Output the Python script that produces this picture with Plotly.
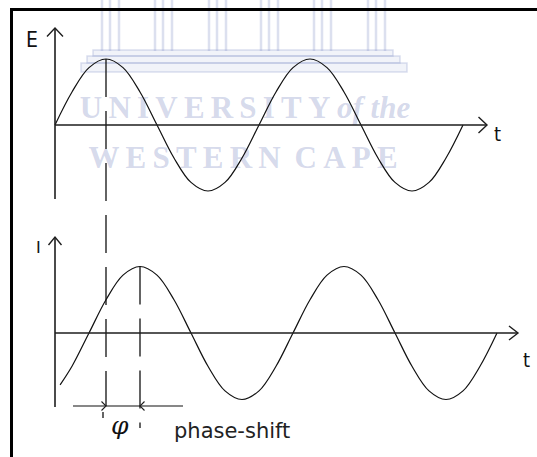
import plotly.graph_objects as go

W, H = 537, 457

# ---- data: phase (degrees) and amplitude (units of peak) ----
E_t = [0, 30, 60, 90, 120, 150, 180, 210, 240, 270, 300, 330, 360,
       390, 420, 450, 480, 510, 540, 570, 600, 630, 660, 690, 720]
E_v = [0, 0.5, 0.87, 1, 0.87, 0.5, 0, -0.5, -0.87, -1, -0.87, -0.5, 0,
       0.5, 0.87, 1, 0.87, 0.5, 0, -0.5, -0.87, -1, -0.87, -0.5, 0]
I_t = [9, 30, 60, 90, 120, 150, 180, 210, 240, 270, 300, 330, 360,
       390, 420, 450, 480, 510, 540, 570, 600, 630, 660, 690, 720, 750, 780]
I_v = [-0.78, -0.5, 0, 0.5, 0.87, 1, 0.87, 0.5, 0, -0.5, -0.87, -1, -0.87,
       -0.5, 0, 0.5, 0.87, 1, 0.87, 0.5, 0, -0.5, -0.87, -1, -0.87, -0.5, 0]
E_peak_t = 90
I_peak_t = 150

# ---- layout geometry (pixels) ----
ORIGIN_PX = 55
PX_PER_DEG = 204 / 360
E_BASE_PX, E_AMP_PX = 125, 66
I_BASE_PX, I_AMP_PX = 333, 66.5


def tx(px):
    return (px - ORIGIN_PX) / PX_PER_DEG


def t2px(t):
    return ORIGIN_PX + t * PX_PER_DEG


def ey(py):
    return (E_BASE_PX - py) / E_AMP_PX


def iy(py):
    return (I_BASE_PX - py) / I_AMP_PX


def xp(px):
    return px / W


def yp(py):
    return 1 - py / H


INK = "#111111"
AX = "#1e1e1e"
DASH = "38px,14px"

fig = go.Figure()

# ---- watermark (below) ----
WM_LINE = "rgba(150,160,205,0.33)"
WM_FILL = "rgba(150,160,205,0.13)"
WM_TEXT = "rgba(150,160,205,0.40)"
shapes = []
for gx in [100, 153, 207, 259, 312, 366]:
    for off in [2, 10, 19]:
        shapes.append(dict(type="line", xref="paper", yref="paper",
                           x0=xp(gx + off), x1=xp(gx + off), y0=yp(0), y1=yp(51),
                           line=dict(color=WM_LINE, width=2.5), layer="below"))
for (x0, x1, y0, y1) in [(93, 393, 50, 56), (87, 400, 56, 63), (81, 407, 63, 72)]:
    shapes.append(dict(type="rect", xref="paper", yref="paper",
                       x0=xp(x0), x1=xp(x1), y0=yp(y1), y1=yp(y0),
                       line=dict(color=WM_LINE, width=1.5), fillcolor=WM_FILL,
                       layer="below"))

# frame (cropped at right and bottom)
shapes.append(dict(type="rect", xref="paper", yref="paper",
                   x0=xp(11.5), x1=xp(600), y0=yp(520), y1=yp(9.5),
                   line=dict(color="#000000", width=3)))

TS = "\u2009"
wm1 = TS.join("UNIVERSITY") + " <i>of the</i>"
wm2 = TS.join("WESTERN") + " " + TS + TS.join("CAPE")
fig.add_trace(go.Scatter(x=[tx(245)], y=[ey(110)], mode="text", text=[wm1],
                         textfont=dict(family="Liberation Serif", size=31, color=WM_TEXT,
                                       weight="bold"),
                         hoverinfo="skip", showlegend=False))
fig.add_trace(go.Scatter(x=[tx(243)], y=[ey(160)], mode="text", text=[wm2],
                         textfont=dict(family="Liberation Serif", size=31, color=WM_TEXT,
                                       weight="bold"),
                         hoverinfo="skip", showlegend=False))

# ---- waves ----
fig.add_trace(go.Scatter(x=E_t, y=E_v, mode="lines", yaxis="y",
                         line=dict(color=INK, width=1.2, shape="spline"),
                         hoverinfo="skip", showlegend=False))
fig.add_trace(go.Scatter(x=I_t, y=I_v, mode="lines", yaxis="y2",
                         line=dict(color=INK, width=1.2, shape="spline"),
                         hoverinfo="skip", showlegend=False))

# ---- dashed guides ----
E_peak = E_v[E_t.index(E_peak_t)]
I_peak = I_v[I_t.index(I_peak_t)]
fig.add_trace(go.Scatter(x=[E_peak_t, E_peak_t], y=[E_peak, ey(406)], mode="lines",
                         yaxis="y", line=dict(color=INK, width=1.3, dash=DASH),
                         hoverinfo="skip", showlegend=False))
fig.add_trace(go.Scatter(x=[tx(103), tx(103)], y=[ey(412), ey(418)], mode="lines",
                         yaxis="y", line=dict(color=INK, width=1.3),
                         hoverinfo="skip", showlegend=False))
fig.add_trace(go.Scatter(x=[I_peak_t, I_peak_t], y=[I_peak, iy(428)], mode="lines",
                         yaxis="y2", line=dict(color=INK, width=1.3, dash=DASH),
                         hoverinfo="skip", showlegend=False))
# dimension line
DIM_PX = 406
DIM = iy(DIM_PX)
fig.add_trace(go.Scatter(x=[tx(73), tx(183)], y=[DIM, DIM], mode="lines",
                         yaxis="y2", line=dict(color=INK, width=1.2),
                         hoverinfo="skip", showlegend=False))

# ---- axes (lines + open chevron heads) ----
fig.add_trace(go.Scatter(x=[0, 0, None, 0, tx(487)], y=[ey(199), ey(28), None, 0, 0],
                         mode="lines", yaxis="y", line=dict(color=AX, width=1.6),
                         hoverinfo="skip", showlegend=False))
fig.add_trace(go.Scatter(x=[0, 0, None, 0, tx(518)], y=[iy(407), iy(237), None, 0, 0],
                         mode="lines", yaxis="y2", line=dict(color=AX, width=1.6),
                         hoverinfo="skip", showlegend=False))


def chevron(tx_px, ty_px, direction, back=8.5, half=8, width=1.4):
    if direction == "up":
        pts = [(tx_px - half, ty_px + back), (tx_px, ty_px), (tx_px + half, ty_px + back)]
    elif direction == "right":
        pts = [(tx_px - back, ty_px - half), (tx_px, ty_px), (tx_px - back, ty_px + half)]
    else:  # left
        pts = [(tx_px + back, ty_px - half), (tx_px, ty_px), (tx_px + back, ty_px + half)]
    path = "M {} {} L {} {} L {} {}".format(
        xp(pts[0][0]), yp(pts[0][1]), xp(pts[1][0]), yp(pts[1][1]),
        xp(pts[2][0]), yp(pts[2][1]))
    shapes.append(dict(type="path", xref="paper", yref="paper", path=path,
                       line=dict(color=AX, width=width)))


chevron(ORIGIN_PX, 28, "up")
chevron(487, E_BASE_PX, "right")
chevron(ORIGIN_PX, 237, "up", back=8, half=6.5)
chevron(518, I_BASE_PX, "right", back=9, half=7)
chevron(t2px(E_peak_t), DIM_PX, "right", back=4.5, half=4.5, width=1.1)
chevron(t2px(I_peak_t), DIM_PX, "left", back=4.5, half=4.5, width=1.1)

annotations = []


def label(text, px, py, size, family="DejaVu Sans", xanchor="center", color=INK):
    annotations.append(dict(text=text, x=xp(px), y=yp(py), xref="paper", yref="paper",
                            showarrow=False, xanchor=xanchor, yanchor="middle",
                            font=dict(family=family, size=size, color=color)))


NARROW = "Liberation Sans Narrow, DejaVu Sans Condensed, Liberation Sans"
label("E", 32, 40, 21, family=NARROW)
label("I", 38, 247, 17, family="Liberation Sans")
label("t", 497, 134, 20, family=NARROW)
label("t", 526, 360, 20, family=NARROW)
label("<i>φ</i>", 120, 425, 25, family="DejaVu Serif")
label("phase-shift", 172, 431, 21, xanchor="left", color="#222222")

fig.update_layout(
    width=W, height=H, margin=dict(l=0, r=0, t=0, b=0),
    paper_bgcolor="white", plot_bgcolor="white",
    xaxis=dict(range=[tx(0), tx(W)], visible=False, fixedrange=True),
    yaxis=dict(range=[ey(H), ey(0)], visible=False, fixedrange=True),
    yaxis2=dict(range=[iy(H), iy(0)], visible=False, overlaying="y", fixedrange=True),
    shapes=shapes, annotations=annotations, showlegend=False,
)

fig.write_html("out.html")
